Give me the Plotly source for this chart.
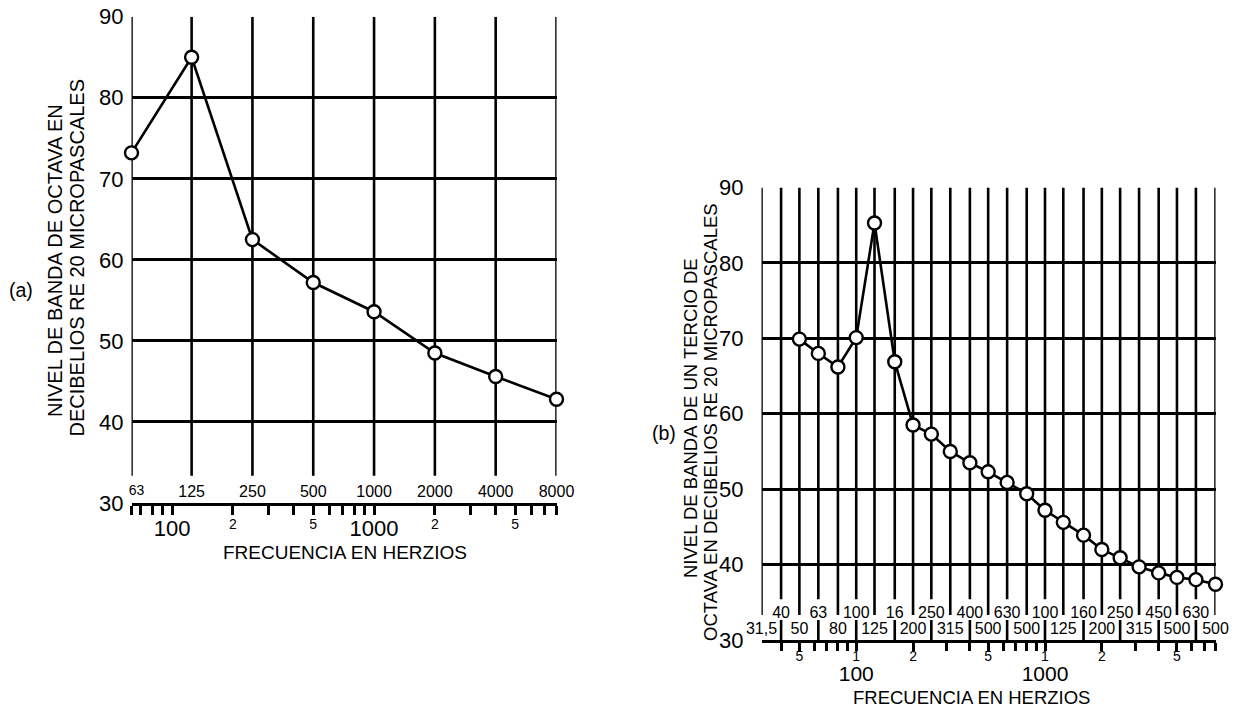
import math
import plotly.graph_objects as go

W, H = 1234, 709
FONT = "Liberation Sans, Arial, Helvetica, sans-serif"
BLACK = "#000000"
LW = 2.6

# ---------------- (a) octave-band data ----------------
a_freq = [63, 125, 250, 500, 1000, 2000, 4000, 8000]
a_band_labels = ["63", "125", "250", "500", "1000", "2000", "4000", "8000"]
a_level = [73.2, 85.0, 62.5, 57.2, 53.6, 48.5, 45.6, 42.8]
a_tick_vals = [63, 70, 80, 90, 100, 200, 300, 400, 500, 600, 700, 800, 900,
               1000, 2000, 3000, 4000, 5000, 6000, 7000, 8000]
a_digit_vals = [200, 500, 2000, 5000]
a_digit_text = ["2", "5", "2", "5"]
a_decade_vals = [100, 1000]
a_decade_text = ["100", "1000"]

# ---------------- (b) one-third-octave data ----------------
b_band_freq = [31.5, 40, 50, 63, 80, 100, 125, 160, 200, 250, 315, 400, 500,
               630, 800, 1000, 1250, 1600, 2000, 2500, 3150, 4000, 5000, 6300, 8000]
b_band_labels = ["31,5", "40", "50", "63", "80", "100", "125", "16", "200", "250",
                 "315", "400", "500", "630", "500", "100", "125", "160", "200",
                 "250", "315", "450", "500", "630", "500"]
b_freq = [50, 63, 80, 100, 125, 160, 200, 250, 315, 400, 500, 630, 800, 1000,
          1250, 1600, 2000, 2500, 3150, 4000, 5000, 6300, 8000]
b_level = [69.9, 68.0, 66.2, 70.1, 85.3, 66.9, 58.5, 57.3, 55.0, 53.5, 52.3,
           50.9, 49.4, 47.2, 45.6, 43.9, 42.0, 40.9, 39.7, 38.9, 38.3, 38.0, 37.4]
b_tick_vals = [40, 50, 60, 70, 80, 90, 100, 200, 300, 400, 500, 600, 700, 800,
               900, 1000, 2000, 3000, 4000, 5000, 6000, 7000, 8000]
b_digit_vals = [50, 100, 200, 500, 1000, 2000, 5000]
b_digit_text = ["5", "1", "2", "5", "1", "2", "5"]
b_decade_vals = [100, 1000]
b_decade_text = ["100", "1000"]

y_ticks = [30, 40, 50, 60, 70, 80, 90]
y_range = [30, 90]

EPS = 1e-5


def hx(x):
    return x / W


def vy(y):
    return 1 - y / H


def vsegs(xs, y0, y1):
    X, Y = [], []
    for x in xs:
        X += [x, x, None]
        Y += [y0, y1, None]
    return X, Y


fig = go.Figure()

# ---------- (a) vertical grid ----------
gx, gy = vsegs(a_freq, 33.35, y_range[1])
fig.add_trace(go.Scatter(x=gx, y=gy, mode="lines", xaxis="x", yaxis="y",
                         line=dict(color=BLACK, width=LW), cliponaxis=False,
                         hoverinfo="skip", showlegend=False))
# ---------- (a) data ----------
fig.add_trace(go.Scatter(x=a_freq, y=a_level, mode="lines+markers", xaxis="x", yaxis="y",
                         line=dict(color=BLACK, width=LW),
                         marker=dict(symbol="circle", size=13, color="white",
                                     line=dict(color=BLACK, width=2.4)),
                         cliponaxis=False, showlegend=False))

# ---------- (b) vertical grid ----------
even_f = b_band_freq[0::2]
odd_f = b_band_freq[1::2]
gx, gy = vsegs(even_f, 33.3, y_range[1])
fig.add_trace(go.Scatter(x=gx, y=gy, mode="lines", xaxis="x2", yaxis="y2",
                         line=dict(color=BLACK, width=LW), cliponaxis=False,
                         hoverinfo="skip", showlegend=False))
gx, gy = vsegs(odd_f, 35.4, y_range[1])
fig.add_trace(go.Scatter(x=gx, y=gy, mode="lines", xaxis="x2", yaxis="y2",
                         line=dict(color=BLACK, width=LW), cliponaxis=False,
                         hoverinfo="skip", showlegend=False))
gx, gy = vsegs(odd_f, y_range[0], 32.65)
fig.add_trace(go.Scatter(x=gx, y=gy, mode="lines", xaxis="x2", yaxis="y2",
                         line=dict(color=BLACK, width=LW), cliponaxis=False,
                         hoverinfo="skip", showlegend=False))
# ---------- (b) data ----------
fig.add_trace(go.Scatter(x=b_freq, y=b_level, mode="lines+markers", xaxis="x2", yaxis="y2",
                         line=dict(color=BLACK, width=LW),
                         marker=dict(symbol="circle", size=13, color="white",
                                     line=dict(color=BLACK, width=2.4)),
                         cliponaxis=False, showlegend=False))

# dummy traces so overlay label axes are rendered
for xa, ya in [("x3", "y"), ("x5", "y"), ("x9", "y"), ("x10", "y"),
               ("x4", "y2"), ("x6", "y2"), ("x7", "y2"), ("x8", "y2")]:
    fig.add_trace(go.Scatter(x=[100], y=[None], xaxis=xa, yaxis=ya, mode="markers",
                             showlegend=False, hoverinfo="skip"))

a_range = [math.log10(a_freq[0]) - EPS, math.log10(a_freq[-1]) + EPS]
b_range = [math.log10(b_band_freq[0]) - EPS, math.log10(b_band_freq[-1]) + EPS]


def label_axis(base, rng, pos, vals, text, size, shift=0):
    return dict(type="log", range=rng, overlaying=base, anchor="free", position=pos,
                showline=False, showgrid=False, zeroline=False, ticks="",
                automargin=False, ticklabelshift=shift,
                tickmode="array", tickvals=vals, ticktext=text,
                tickfont=dict(size=size, color=BLACK, family=FONT))


yaxis_common = dict(range=y_range, tickmode="array", tickvals=y_ticks,
                    showgrid=True, gridcolor=BLACK, gridwidth=LW,
                    showline=False, zeroline=False, ticks="", automargin=False,
                    tickfont=dict(size=22, color=BLACK, family=FONT))

main_x = dict(type="log", showline=True, linecolor=BLACK, linewidth=LW,
              showgrid=False, zeroline=False, ticks="outside", tickwidth=LW,
              tickcolor=BLACK, automargin=False, tickmode="array",
              showticklabels=False)

fig.update_layout(
    width=W, height=H, autosize=False,
    margin=dict(l=0, r=0, t=0, b=0, pad=0),
    paper_bgcolor="white", plot_bgcolor="white",
    font=dict(family=FONT, color=BLACK),
    showlegend=False,
    # ----- chart (a) -----
    xaxis=dict(range=a_range, domain=[hx(131.5), hx(556.5)], anchor="y",
               ticklen=9, tickvals=a_tick_vals, **main_x),
    xaxis9=label_axis("x", a_range, vy(513.5), a_digit_vals, a_digit_text, 14),
    xaxis3=label_axis("x", a_range, vy(512.5), a_decade_vals, a_decade_text, 22),
    xaxis5=label_axis("x", a_range, vy(480), a_freq[1:], a_band_labels[1:], 16),
    xaxis10=label_axis("x", a_range, vy(479.5), a_freq[:1], a_band_labels[:1], 14, shift=5),
    yaxis=dict(domain=[vy(503), vy(16.7)], anchor="x", ticklabelstandoff=7, **yaxis_common),
    # ----- chart (b) -----
    xaxis2=dict(range=b_range, domain=[hx(761.5), hx(1215.5)], anchor="y2",
                ticklen=8, tickvals=b_tick_vals, **main_x),
    xaxis8=label_axis("x2", b_range, vy(645.5), b_digit_vals, b_digit_text, 14),
    xaxis7=label_axis("x2", b_range, vy(658.7), b_decade_vals, b_decade_text, 21),
    xaxis4=label_axis("x2", b_range, vy(601), odd_f, b_band_labels[1::2], 16),
    xaxis6=label_axis("x2", b_range, vy(617), even_f, b_band_labels[0::2], 16),
    yaxis2=dict(domain=[vy(640), vy(187.5)], anchor="x2", ticklabelstandoff=17, **yaxis_common),
)

ann = dict(showarrow=False, xref="paper", yref="paper", xanchor="center", yanchor="middle")
tf = lambda s: dict(size=s, color=BLACK, family=FONT)
fig.add_annotation(text="(a)", x=hx(20.5), y=vy(290), font=tf(19.5), **ann)
fig.add_annotation(text="(b)", x=hx(664), y=vy(433), font=tf(19.5), **ann)
# y-axis titles, one annotation per printed line
fig.add_annotation(text="NIVEL DE BANDA DE OCTAVA EN", textangle=-90,
                   x=hx(55), y=vy(261), font=tf(20), **ann)
fig.add_annotation(text="DECIBELIOS RE 20 MICROPASCALES", textangle=-90,
                   x=hx(76), y=vy(257.5), font=tf(20), **ann)
fig.add_annotation(text="NIVEL DE BANDA DE UN TERCIO DE", textangle=-90,
                   x=hx(690), y=vy(418), font=tf(18.5), **ann)
fig.add_annotation(text="OCTAVA EN DECIBELIOS RE 20 MICROPASCALES", textangle=-90,
                   x=hx(710), y=vy(422), font=tf(18.5), **ann)
# x-axis titles
fig.add_annotation(text="FRECUENCIA EN HERZIOS", x=hx(345), y=vy(552.5), font=tf(19), **ann)
fig.add_annotation(text="FRECUENCIA EN HERZIOS", x=hx(971.5), y=vy(697), font=tf(18.5), **ann)

fig.write_html("out.html",
               config={"displayModeBar": False},
               post_script="document.body.style.margin='0px';"
                           "document.documentElement.style.overflow='hidden';")
